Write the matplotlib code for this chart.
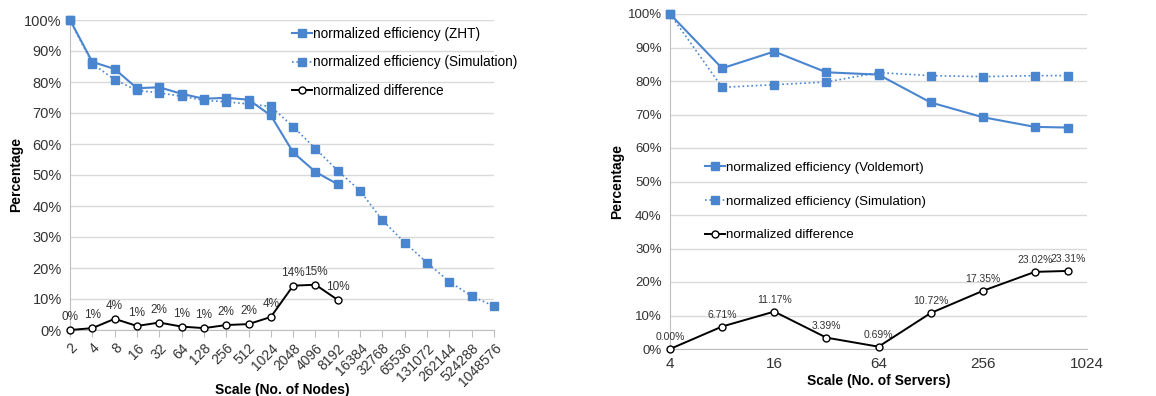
import matplotlib
matplotlib.use("Agg")
import matplotlib.pyplot as plt

plt.rcParams["font.family"] = ["Liberation Sans", "DejaVu Sans"]

# left chart: ZHT
nodes = ["2", "4", "8", "16", "32", "64", "128", "256", "512", "1024", "2048",
         "4096", "8192", "16384", "32768", "65536", "131072", "262144",
         "524288", "1048576"]
zht_eff = [100, 86.5, 84.2, 78.0, 78.3, 76.2, 74.6, 74.9, 74.3, 69.2, 57.3,
           51.0, 47.0]
zht_sim = [100, 85.9, 80.8, 77.3, 76.5, 75.4, 74.1, 73.6, 72.9, 72.1, 65.6,
           58.5, 51.4, 44.9, 35.4, 28.2, 21.7, 15.6, 10.9, 7.7]
zht_diff = [0.0, 0.6, 3.6, 1.3, 2.4, 1.1, 0.6, 1.6, 1.9, 4.2, 14.3, 14.6, 9.7]

# right chart: Voldemort
servers = [4, 8, 16, 32, 64, 128, 256, 512, 800]
vol_eff = [100, 83.8, 88.8, 82.6, 81.9, 73.6, 69.2, 66.3, 66.1]
vol_sim = [100, 78.1, 78.9, 79.7, 82.5, 81.6, 81.3, 81.6, 81.6]
vol_diff = [0.00, 6.71, 11.17, 3.39, 0.69, 10.72, 17.35, 23.02, 23.31]
server_ticks = [4, 16, 64, 256, 1024]

blue = "#4A85D0"
grid_c = "#D9D9D9"
text_c = "#333333"
pct_ticks = list(range(0, 101, 10))

fig = plt.figure(figsize=(11.56, 3.96), dpi=100)
ax1 = fig.add_axes([70 / 1156, 66 / 396, 424 / 1156, 310 / 396])
ax2 = fig.add_axes([670 / 1156, 47 / 396, 417 / 1156, 335 / 396])


def style_axes(ax, ysize):
    ax.set_ylim(0, 100)
    ax.set_yticks(pct_ticks)
    ax.set_yticklabels([f"{t}%" for t in pct_ticks], fontsize=ysize,
                       color=text_c)
    ax.yaxis.grid(True, color=grid_c, linewidth=1)
    ax.set_axisbelow(True)
    for s in ["top", "right"]:
        ax.spines[s].set_visible(False)
    ax.spines["left"].set_color("#BFBFBF")
    ax.spines["bottom"].set_color("#BFBFBF")
    ax.tick_params(axis="y", length=0, pad=6)
    ax.tick_params(axis="x", color="#BFBFBF", length=5)
    ax.set_ylabel("Percentage", fontsize=10, fontweight="bold")


def draw_lines(ax, x_eff, eff, x_sim, sim, x_diff, diff, eff_label):
    ax.plot(x_eff, eff, "-s", color=blue, markersize=5.5, linewidth=1.5,
            label=eff_label, clip_on=False, zorder=3)
    ax.plot(x_sim, sim, ":s", color=blue, markersize=5.5, linewidth=1.2,
            label="normalized efficiency (Simulation)", clip_on=False,
            zorder=3)
    ax.plot(x_diff, diff, "-o", color="black", markersize=5,
            markerfacecolor="white", markeredgewidth=1, linewidth=1.4,
            label="normalized difference", clip_on=False, zorder=4)


# ---- left
xs = list(range(len(nodes)))
draw_lines(ax1, xs[:len(zht_eff)], zht_eff, xs, zht_sim,
           xs[:len(zht_diff)], zht_diff, "normalized efficiency (ZHT)")
for x, v in zip(xs, zht_diff):
    ax1.annotate(f"{v:.0f}%", (x, v), xytext=(0, 5),
                 textcoords="offset points", ha="center", va="bottom",
                 fontsize=8.5, color=text_c)
style_axes(ax1, 10.5)
ax1.set_xlim(0, len(nodes) - 1)
ax1.set_xticks(xs)
ax1.set_xticklabels(nodes, rotation=45, ha="right", rotation_mode="anchor",
                    fontsize=10, color=text_c)
ax1.tick_params(axis="x", pad=3)
ax1.set_xlabel("Scale (No. of Nodes)", fontsize=10, fontweight="bold")
ax1.xaxis.set_label_coords(0.5, -0.17)
ax1.yaxis.set_label_coords(-0.11, 0.5)
ax1.legend(loc="upper left", bbox_to_anchor=(0.51, 0.995), frameon=False,
           fontsize=9.8, handlelength=1.5, handletextpad=0.1,
           labelspacing=1.05, borderaxespad=0)

# ---- right
draw_lines(ax2, servers, vol_eff, servers, vol_sim, servers, vol_diff,
           "normalized efficiency (Voldemort)")
for x, v in zip(servers, vol_diff):
    ax2.annotate(f"{v:.2f}%", (x, v), xytext=(0, 5),
                 textcoords="offset points", ha="center", va="bottom",
                 fontsize=7.5, color=text_c)
style_axes(ax2, 9.5)
ax2.set_xscale("log", base=2)
ax2.set_xlim(4, 1024)
ax2.set_xticks(server_ticks)
ax2.set_xticklabels([str(t) for t in server_ticks], fontsize=11,
                    color=text_c)
ax2.minorticks_off()
ax2.tick_params(axis="x", length=0, pad=6)
ax2.set_xlabel("Scale (No. of Servers)", fontsize=10, fontweight="bold",
               labelpad=2)
ax2.yaxis.set_label_coords(-0.11, 0.5)
ax2.legend(loc="upper left", bbox_to_anchor=(0.07, 0.575), frameon=False,
           fontsize=9.6, handlelength=1.5, handletextpad=0.1,
           labelspacing=1.6, borderaxespad=0)

fig.savefig("out.png", dpi=100)
